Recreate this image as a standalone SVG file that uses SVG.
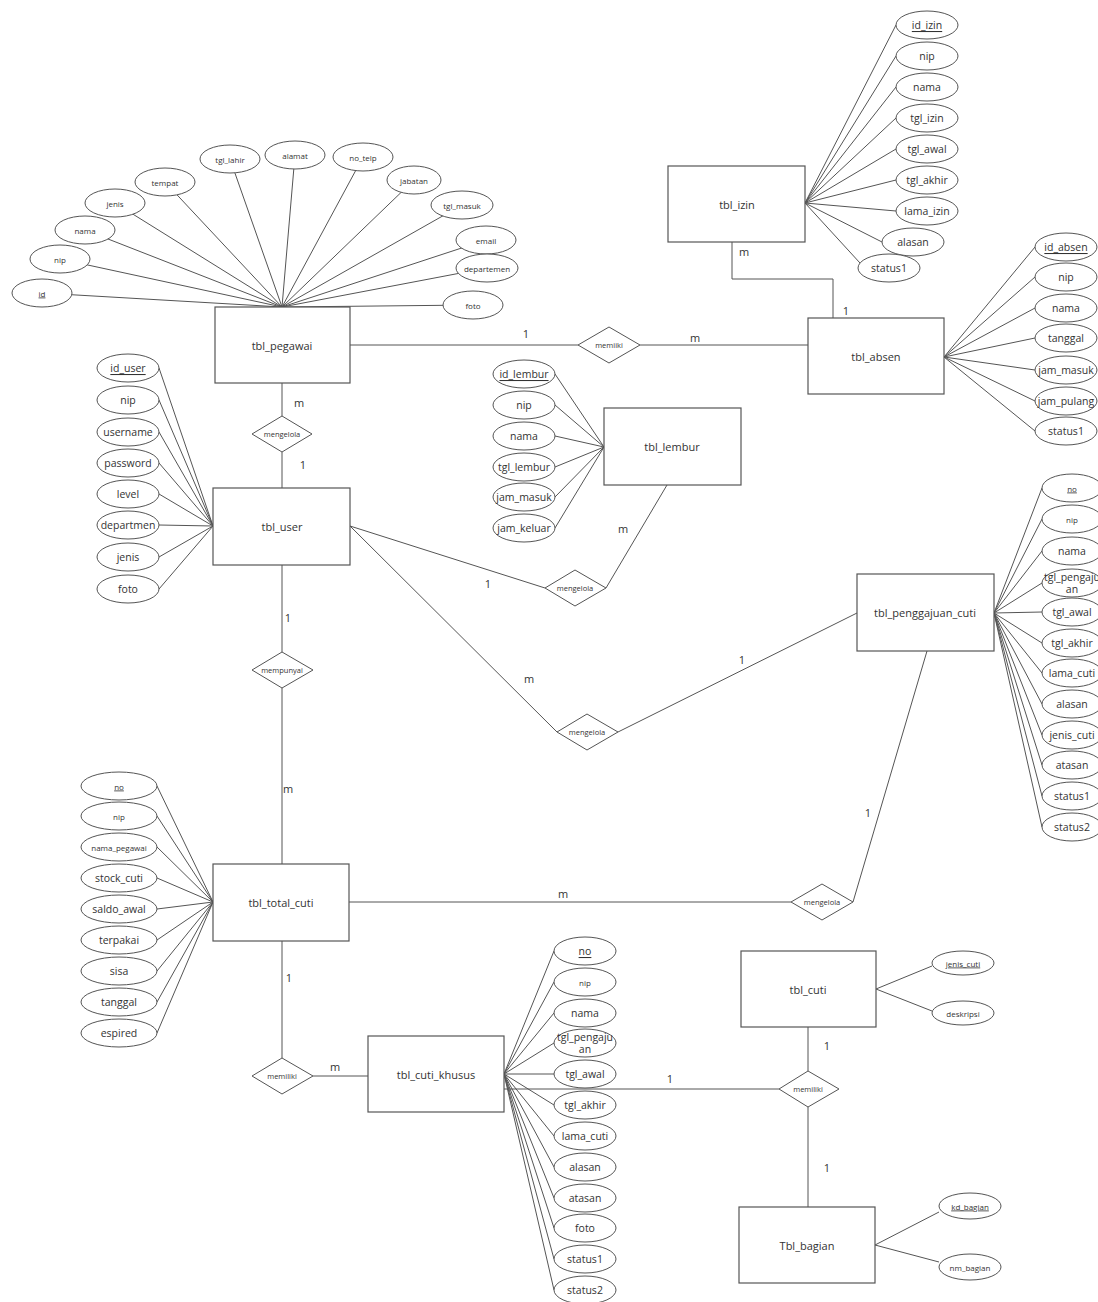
<svg xmlns="http://www.w3.org/2000/svg" width="1098" height="1302" viewBox="0 0 1098 1302">
<style>
.l{stroke:#555;stroke-width:1;fill:none}
.e{fill:#fff;stroke:#555;stroke-width:1}
.r{fill:#fff;stroke:#555;stroke-width:1.2}
.d{fill:#fff;stroke:#555;stroke-width:1}
text{font-family:"Open Sans","Noto Sans","Liberation Sans",sans-serif;fill:#333;text-anchor:middle;dominant-baseline:central}
.a{font-size:10.5px}
.s{font-size:8px}
.t{font-size:11px}
.dl{font-size:7.5px}
.c{font-size:11px}
.u{text-decoration:underline}
</style>
<rect width="1098" height="1302" fill="#fff"/>
<g id="connectors">
<!-- pegawai attributes -->
<path class="l" d="M42,293L282,307M60,259L282,307M85,230L282,307M115,203L282,307M165,182L282,307M230,159L282,307M295,155L282,307M363,157L282,307M414,180L282,307M462,205L282,307M486,240L282,307M487,268L282,307M473,305L282,307"/>
<!-- izin attributes -->
<path class="l" d="M805,203L896,25M805,203L896,56M805,203L896,87M805,203L896,118M805,203L896,149M805,203L896,180M805,203L896,211M805,203L882,242M805,203L860,263"/>
<!-- absen attributes -->
<path class="l" d="M944,357L1035,247M944,357L1035,277M944,357L1035,308M944,357L1035,338M944,357L1035,370M944,357L1035,401M944,357L1035,431"/>
<!-- user attributes -->
<path class="l" d="M213,526L159,368M213,526L159,400M213,526L159,432M213,526L159,463M213,526L159,494M213,526L159,525M213,526L159,557M213,526L159,589"/>
<!-- lembur attributes -->
<path class="l" d="M604,447L555,374M604,447L555,405M604,447L555,436M604,447L555,467M604,447L555,497M604,447L555,528"/>
<!-- penggajuan attributes -->
<path class="l" d="M994,613L1042,488M994,613L1042,519M994,613L1042,551M994,613L1042,583M994,613L1042,612M994,613L1042,643M994,613L1042,673M994,613L1042,704M994,613L1042,735M994,613L1042,765M994,613L1042,796M994,613L1042,827"/>
<!-- total cuti attributes -->
<path class="l" d="M213,902L157,786M213,902L157,816M213,902L157,847M213,902L157,878M213,902L157,909M213,902L157,940M213,902L157,971M213,902L157,1002M213,902L157,1033"/>
<!-- cuti khusus attributes -->
<path class="l" d="M504,1074L554,951M504,1074L554,982M504,1074L554,1013M504,1074L554,1043M504,1074L554,1074M504,1074L554,1105M504,1074L554,1136M504,1074L554,1167M504,1074L554,1198M504,1074L554,1228M504,1074L554,1259M504,1074L554,1290"/>
<!-- tbl_cuti / bagian attributes -->
<path class="l" d="M876,989L932,966M876,989L932,1011M875,1245L939,1212M875,1245L939,1262"/>
<!-- relationships -->
<path class="l" d="M350,345L578,345M640,345L808,345"/>
<path class="l" d="M282,383L282,416M282,452L282,488"/>
<polyline class="l" points="732,242 732,279 833,279 833,318"/>
<path class="l" d="M350,526L545,588M667,485L606,588"/>
<path class="l" d="M350,526L557,732M618,732L857,613"/>
<path class="l" d="M282,565L282,652M282,688L282,864"/>
<path class="l" d="M349,902L791,902M853,902L927,651"/>
<path class="l" d="M282,941L282,1058M313,1076L368,1076"/>
<path class="l" d="M504,1089L779,1089"/>
<path class="l" d="M808,1027L808,1071M808,1107L808,1207"/>
<!-- cardinalities -->
<text class="c" x="526" y="333">1</text>
<text class="c" x="695" y="337">m</text>
<text class="c" x="299" y="402">m</text>
<text class="c" x="303" y="464">1</text>
<text class="c" x="744" y="251">m</text>
<text class="c" x="846" y="310">1</text>
<text class="c" x="488" y="583">1</text>
<text class="c" x="623" y="528">m</text>
<text class="c" x="529" y="678">m</text>
<text class="c" x="742" y="659">1</text>
<text class="c" x="288" y="617">1</text>
<text class="c" x="288" y="788">m</text>
<text class="c" x="563" y="893">m</text>
<text class="c" x="868" y="812">1</text>
<text class="c" x="289" y="977">1</text>
<text class="c" x="335" y="1066">m</text>
<text class="c" x="670" y="1078">1</text>
<text class="c" x="827" y="1045">1</text>
<text class="c" x="827" y="1167">1</text>
</g>
<g id="tbl_pegawai">
<rect class="r" x="215" y="307" width="135" height="76"/><text class="t" x="282" y="345">tbl_pegawai</text>
<ellipse class="e" cx="42" cy="293" rx="30" ry="14"/><text class="s u" x="42" y="293">id</text>
<ellipse class="e" cx="60" cy="259" rx="30" ry="14"/><text class="s" x="60" y="259">nip</text>
<ellipse class="e" cx="85" cy="230" rx="30" ry="14"/><text class="s" x="85" y="230">nama</text>
<ellipse class="e" cx="115" cy="203" rx="30" ry="14"/><text class="s" x="115" y="203">jenis</text>
<ellipse class="e" cx="165" cy="182" rx="30" ry="14"/><text class="s" x="165" y="182">tempat</text>
<ellipse class="e" cx="230" cy="159" rx="30" ry="14"/><text class="s" x="230" y="159">tgl_lahir</text>
<ellipse class="e" cx="295" cy="155" rx="30" ry="14"/><text class="s" x="295" y="155">alamat</text>
<ellipse class="e" cx="363" cy="157" rx="30" ry="14"/><text class="s" x="363" y="157">no_telp</text>
<ellipse class="e" cx="414" cy="180" rx="27" ry="14"/><text class="s" x="414" y="180">jabatan</text>
<ellipse class="e" cx="462" cy="205" rx="31" ry="14"/><text class="s" x="462" y="205">tgl_masuk</text>
<ellipse class="e" cx="486" cy="240" rx="30" ry="14"/><text class="s" x="486" y="240">email</text>
<ellipse class="e" cx="487" cy="268" rx="31" ry="14"/><text class="s" x="487" y="268">departemen</text>
<ellipse class="e" cx="473" cy="305" rx="30" ry="14"/><text class="s" x="473" y="305">foto</text>
</g>
<g id="tbl_izin">
<rect class="r" x="668" y="166" width="137" height="76"/><text class="t" x="737" y="204">tbl_izin</text>
<ellipse class="e" cx="927" cy="25" rx="31" ry="14"/><text class="a u" x="927" y="25">id_izin</text>
<ellipse class="e" cx="927" cy="56" rx="31" ry="14"/><text class="a" x="927" y="56">nip</text>
<ellipse class="e" cx="927" cy="87" rx="31" ry="14"/><text class="a" x="927" y="87">nama</text>
<ellipse class="e" cx="927" cy="118" rx="31" ry="14"/><text class="a" x="927" y="118">tgl_izin</text>
<ellipse class="e" cx="927" cy="149" rx="31" ry="14"/><text class="a" x="927" y="149">tgl_awal</text>
<ellipse class="e" cx="927" cy="180" rx="31" ry="14"/><text class="a" x="927" y="180">tgl_akhir</text>
<ellipse class="e" cx="927" cy="211" rx="31" ry="14"/><text class="a" x="927" y="211">lama_izin</text>
<ellipse class="e" cx="913" cy="242" rx="31" ry="14"/><text class="a" x="913" y="242">alasan</text>
<ellipse class="e" cx="889" cy="268" rx="31" ry="14"/><text class="a" x="889" y="268">status1</text>
</g>
<g id="tbl_absen">
<rect class="r" x="808" y="318" width="136" height="76"/><text class="t" x="876" y="356">tbl_absen</text>
<ellipse class="e" cx="1066" cy="247" rx="31" ry="14"/><text class="a u" x="1066" y="247">id_absen</text>
<ellipse class="e" cx="1066" cy="277" rx="31" ry="14"/><text class="a" x="1066" y="277">nip</text>
<ellipse class="e" cx="1066" cy="308" rx="31" ry="14"/><text class="a" x="1066" y="308">nama</text>
<ellipse class="e" cx="1066" cy="338" rx="31" ry="14"/><text class="a" x="1066" y="338">tanggal</text>
<ellipse class="e" cx="1066" cy="370" rx="31" ry="14"/><text class="a" x="1066" y="370">jam_masuk</text>
<ellipse class="e" cx="1066" cy="401" rx="31" ry="14"/><text class="a" x="1066" y="401">jam_pulang</text>
<ellipse class="e" cx="1066" cy="431" rx="31" ry="14"/><text class="a" x="1066" y="431">status1</text>
</g>
<g id="tbl_user">
<rect class="r" x="213" y="488" width="137" height="77"/><text class="t" x="282" y="526">tbl_user</text>
<ellipse class="e" cx="128" cy="368" rx="31" ry="14"/><text class="a u" x="128" y="368">id_user</text>
<ellipse class="e" cx="128" cy="400" rx="31" ry="14"/><text class="a" x="128" y="400">nip</text>
<ellipse class="e" cx="128" cy="432" rx="31" ry="14"/><text class="a" x="128" y="432">username</text>
<ellipse class="e" cx="128" cy="463" rx="31" ry="14"/><text class="a" x="128" y="463">password</text>
<ellipse class="e" cx="128" cy="494" rx="31" ry="14"/><text class="a" x="128" y="494">level</text>
<ellipse class="e" cx="128" cy="525" rx="31" ry="14"/><text class="a" x="128" y="525">departmen</text>
<ellipse class="e" cx="128" cy="557" rx="31" ry="14"/><text class="a" x="128" y="557">jenis</text>
<ellipse class="e" cx="128" cy="589" rx="31" ry="14"/><text class="a" x="128" y="589">foto</text>
</g>
<g id="tbl_lembur">
<rect class="r" x="604" y="408" width="137" height="77"/><text class="t" x="672" y="446">tbl_lembur</text>
<ellipse class="e" cx="524" cy="374" rx="31" ry="14"/><text class="a u" x="524" y="374">id_lembur</text>
<ellipse class="e" cx="524" cy="405" rx="31" ry="14"/><text class="a" x="524" y="405">nip</text>
<ellipse class="e" cx="524" cy="436" rx="31" ry="14"/><text class="a" x="524" y="436">nama</text>
<ellipse class="e" cx="524" cy="467" rx="31" ry="14"/><text class="a" x="524" y="467">tgl_lembur</text>
<ellipse class="e" cx="524" cy="497" rx="31" ry="14"/><text class="a" x="524" y="497">jam_masuk</text>
<ellipse class="e" cx="524" cy="528" rx="31" ry="14"/><text class="a" x="524" y="528">jam_keluar</text>
</g>
<g id="tbl_penggajuan_cuti">
<rect class="r" x="857" y="574" width="137" height="77"/><text class="t" x="925" y="612">tbl_penggajuan_cuti</text>
<ellipse class="e" cx="1072" cy="488" rx="30" ry="14"/><text class="s u" x="1072" y="488">no</text>
<ellipse class="e" cx="1072" cy="519" rx="30" ry="14"/><text class="s" x="1072" y="519">nip</text>
<ellipse class="e" cx="1072" cy="551" rx="30" ry="14"/><text class="a" x="1072" y="551">nama</text>
<ellipse class="e" cx="1072" cy="583" rx="30" ry="14"/><text class="a" x="1072" y="577">tgl_pengaju</text><text class="a" x="1072" y="589">an</text>
<ellipse class="e" cx="1072" cy="612" rx="30" ry="14"/><text class="a" x="1072" y="612">tgl_awal</text>
<ellipse class="e" cx="1072" cy="643" rx="30" ry="14"/><text class="a" x="1072" y="643">tgl_akhir</text>
<ellipse class="e" cx="1072" cy="673" rx="30" ry="14"/><text class="a" x="1072" y="673">lama_cuti</text>
<ellipse class="e" cx="1072" cy="704" rx="30" ry="14"/><text class="a" x="1072" y="704">alasan</text>
<ellipse class="e" cx="1072" cy="735" rx="30" ry="14"/><text class="a" x="1072" y="735">jenis_cuti</text>
<ellipse class="e" cx="1072" cy="765" rx="30" ry="14"/><text class="a" x="1072" y="765">atasan</text>
<ellipse class="e" cx="1072" cy="796" rx="30" ry="14"/><text class="a" x="1072" y="796">status1</text>
<ellipse class="e" cx="1072" cy="827" rx="30" ry="14"/><text class="a" x="1072" y="827">status2</text>
</g>
<g id="tbl_total_cuti">
<rect class="r" x="213" y="864" width="136" height="77"/><text class="t" x="281" y="902">tbl_total_cuti</text>
<ellipse class="e" cx="119" cy="786" rx="38" ry="14"/><text class="s u" x="119" y="786">no</text>
<ellipse class="e" cx="119" cy="816" rx="38" ry="14"/><text class="s" x="119" y="816">nip</text>
<ellipse class="e" cx="119" cy="847" rx="38" ry="14"/><text class="s" x="119" y="847">nama_pegawai</text>
<ellipse class="e" cx="119" cy="878" rx="38" ry="14"/><text class="a" x="119" y="878">stock_cuti</text>
<ellipse class="e" cx="119" cy="909" rx="38" ry="14"/><text class="a" x="119" y="909">saldo_awal</text>
<ellipse class="e" cx="119" cy="940" rx="38" ry="14"/><text class="a" x="119" y="940">terpakai</text>
<ellipse class="e" cx="119" cy="971" rx="38" ry="14"/><text class="a" x="119" y="971">sisa</text>
<ellipse class="e" cx="119" cy="1002" rx="38" ry="14"/><text class="a" x="119" y="1002">tanggal</text>
<ellipse class="e" cx="119" cy="1033" rx="38" ry="14"/><text class="a" x="119" y="1033">espired</text>
</g>
<g id="tbl_cuti_khusus">
<rect class="r" x="368" y="1036" width="136" height="76"/><text class="t" x="436" y="1074">tbl_cuti_khusus</text>
<ellipse class="e" cx="585" cy="951" rx="31" ry="14"/><text class="a u" x="585" y="951">no</text>
<ellipse class="e" cx="585" cy="982" rx="31" ry="14"/><text class="s" x="585" y="982">nip</text>
<ellipse class="e" cx="585" cy="1013" rx="31" ry="14"/><text class="a" x="585" y="1013">nama</text>
<ellipse class="e" cx="585" cy="1043" rx="31" ry="14"/><text class="a" x="585" y="1037">tgl_pengaju</text><text class="a" x="585" y="1049">an</text>
<ellipse class="e" cx="585" cy="1074" rx="31" ry="14"/><text class="a" x="585" y="1074">tgl_awal</text>
<ellipse class="e" cx="585" cy="1105" rx="31" ry="14"/><text class="a" x="585" y="1105">tgl_akhir</text>
<ellipse class="e" cx="585" cy="1136" rx="31" ry="14"/><text class="a" x="585" y="1136">lama_cuti</text>
<ellipse class="e" cx="585" cy="1167" rx="31" ry="14"/><text class="a" x="585" y="1167">alasan</text>
<ellipse class="e" cx="585" cy="1198" rx="31" ry="14"/><text class="a" x="585" y="1198">atasan</text>
<ellipse class="e" cx="585" cy="1228" rx="31" ry="14"/><text class="a" x="585" y="1228">foto</text>
<ellipse class="e" cx="585" cy="1259" rx="31" ry="14"/><text class="a" x="585" y="1259">status1</text>
<ellipse class="e" cx="585" cy="1290" rx="31" ry="14"/><text class="a" x="585" y="1290">status2</text>
</g>
<g id="tbl_cuti">
<rect class="r" x="741" y="951" width="135" height="76"/><text class="t" x="808" y="989">tbl_cuti</text>
<ellipse class="e" cx="963" cy="963" rx="31" ry="12"/><text class="s u" x="963" y="963">jenis_cuti</text>
<ellipse class="e" cx="963" cy="1013" rx="31" ry="12"/><text class="s" x="963" y="1013">deskripsi</text>
</g>
<g id="tbl_bagian">
<rect class="r" x="739" y="1207" width="136" height="76"/><text class="t" x="807" y="1245">Tbl_bagian</text>
<ellipse class="e" cx="970" cy="1206" rx="31" ry="13"/><text class="s u" x="970" y="1206">kd_bagian</text>
<ellipse class="e" cx="970" cy="1267" rx="31" ry="13"/><text class="s" x="970" y="1267">nm_bagian</text>
</g>
<g id="rel_memiiki">
<polygon class="d" points="578,345 609,327 640,345 609,363"/><text class="dl" x="609" y="345">memiiki</text>
</g>
<g id="rel_mengelola_pegawai_user">
<polygon class="d" points="252,434 282,416 312,434 282,452"/><text class="dl" x="282" y="434">mengelola</text>
</g>
<g id="rel_mengelola_lembur">
<polygon class="d" points="545,588 575,570 606,588 575,606"/><text class="dl" x="575" y="588">mengelola</text>
</g>
<g id="rel_mengelola_penggajuan">
<polygon class="d" points="557,732 587,714 618,732 587,750"/><text class="dl" x="587" y="732">mengelola</text>
</g>
<g id="rel_mempunyai">
<polygon class="d" points="252,670 282,652 313,670 282,688"/><text class="dl" x="282" y="670">mempunyai</text>
</g>
<g id="rel_mengelola_total">
<polygon class="d" points="791,902 822,884 853,902 822,920"/><text class="dl" x="822" y="902">mengelola</text>
</g>
<g id="rel_memiliki_total">
<polygon class="d" points="252,1076 282,1058 313,1076 282,1094"/><text class="dl" x="282" y="1076">memiliki</text>
</g>
<g id="rel_memiliki_cuti">
<polygon class="d" points="779,1089 808,1071 839,1089 808,1107"/><text class="dl" x="808" y="1089">memiliki</text>
</g>
</svg>
